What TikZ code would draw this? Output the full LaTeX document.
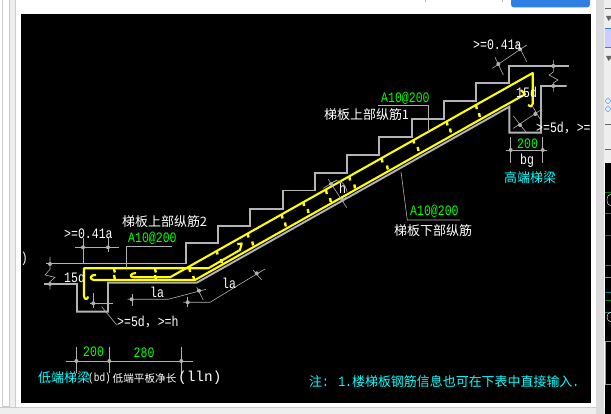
\documentclass[tikz,border=0pt]{standalone}
\usepackage{fontspec}
\setmainfont[FakeStretch=.8]{Liberation Mono}
\newfontfamily\widefont{Liberation Mono}
\newfontfamily\cnfont[Scale=.9]{Noto Sans CJK SC}
\definecolor{concrete}{HTML}{B4B4B4}
\definecolor{dimline}{HTML}{B0B0B0}
\definecolor{rebarcol}{HTML}{FFFF00}
\definecolor{labgreen}{HTML}{00FF00}
\definecolor{labcyan}{HTML}{00FFFF}
\definecolor{panelgray}{HTML}{EEEEEE}
\definecolor{edgegray}{HTML}{CCCCCC}
\definecolor{buttonblue}{HTML}{2F80E2}
\tikzset{
	concreteline/.style={draw=concrete, line width=1.9pt},
	rebar/.style={draw=rebarcol, line width=2.1pt, line join=round},
	rebartick/.style={draw=rebarcol, line width=2.4pt},
	dimthin/.style={draw=dimline, line width=.6pt},
	dimdot/.style={fill=dimline},
	lab/.style={inner sep=0pt, anchor=west, text=white, font=\fontsize{14.4}{15}\selectfont},
	labg/.style={lab, text=labgreen},
	labc/.style={lab, text=labcyan},
}
\begin{document}
\begin{tikzpicture}[x=1pt, y=-1pt]
	\useasboundingbox (0,0) rectangle (611,414);
	% window around the drawing
	\fill [white] (0,0) rectangle (611,414);
	\fill [panelgray] (9,0) rectangle (16,414);
	\draw [edgegray] (2.5,0) -- (2.5,406) -- (9,406);
	\draw [edgegray] (9,0) -- (9,408);
	\draw [edgegray] (15.5,0) -- (15.5,408);
	\fill [panelgray] (0,408) rectangle (611,414);
	\draw [edgegray] (0,407) -- (596,407);
	\fill [edgegray!70] (596,0) rectangle (604,414);
	\fill [panelgray] (604,0) rectangle (611,163);
	\fill [black] (605,163) rectangle (611,414);
	\fill [black!60] (606,16) -- (611,16) -- (611,18) -- (608.5,21) -- cycle;
	\fill [blue!20!white] (605,28) rectangle (611,48);
	\draw [buttonblue] (605,28.5) -- (611,28.5);
	\draw [buttonblue] (605,47.5) -- (611,47.5);
	\fill [black!60] (606,56) -- (611,56) -- (611,58) -- (608.5,61) -- cycle;
	\draw [buttonblue] (608,101) circle (2.5);
	\draw [buttonblue] (608,109) circle (2.5);
	\draw [black!60] (605,8) -- (611,8);
	\draw [black!60] (605,124) -- (611,124);
	\draw [black!60] (605,149) -- (611,149);
	\foreach \y/\c in {192/green!50!black, 213/magenta, 235/green!50!black, 265/magenta, 277/brown, 292/teal, 300/green!50!black, 312/teal} {
		\draw [\c] (605,\y) -- (611,\y);
	}
	\draw [white] (611,206) arc (90:270:4 and 6);
	\draw [white] (611,322) arc (90:270:4 and 5);
	\draw [black!40] (605,341) -- (611,341);
	\draw [black!40] (605,341) -- (605,384) -- (611,384);
	\fill [rounded corners=3pt, buttonblue] (511,-6) rectangle (590,7.5);
	\draw [dimline] (425,0) -- (425,2);
	\draw [dimline] (502,0) -- (502,2);
	\fill [black] (21,14) rectangle (591,403);

	% stair outline
	\draw [concreteline] (46,263.5) -- (186,263.5) -- (186,243) -- (218,243) -- (218,226) -- (250,226) -- (250,209) -- (283,209) -- (283,190.5) -- (315,190.5) -- (315,172.7) -- (347,172.7) -- (347,155) -- (379.3,155) -- (379.3,136.7) -- (412,136.7) -- (412,119) -- (444,119) -- (444,101) -- (476,101) -- (476,83) -- (509.3,83) -- (509.3,66) -- (568.7,66);
	\draw [concreteline] (44,284) -- (77,284) -- (77,311.7) -- (108,311.7) -- (108,282.7) -- (196.7,282.7) -- (509.3,106.7) -- (509.3,132.7) -- (541,132.7) -- (541,86) -- (566.7,86);

	% bars
	\draw [rebar] (88,296.5) .. controls (88,300) and (84,300) .. (84,296) -- (84,268.3) -- (208.3,268.3) -- (240,250) -- (241.7,243.5) -- (237.3,244);
	\draw [rebar] (96,275) .. controls (90,274) and (89,280) .. (94,280) -- (195,280) -- (525,94.3) -- (521,90);
	\draw [rebar] (136,273) .. controls (130,273) and (129,277.3) .. (134,277.3) -- (170,277.3) -- (532.7,73) -- (532.7,104) -- (531,106.5) -- (528,105);
	\foreach \x/\y in {114/268.5, 114/275, 155/268.5, 155/275, 189.3/268, 193.3/276, 216.7/250.5, 221/259, 247.7/233.5, 252.3/241.5, 281.7/214.5, 285/222.5, 303.3/202, 307.7/209, 326/190, 330/198, 349.3/176.5, 354.3/184.5, 381.7/158.5, 387/165.5, 413.3/139.5, 417.7/147, 446.7/121.5, 450/128.5, 476/105, 479/113} {
		\draw [rebartick] (\x,\y) -- ++(.8,4);
	}

	% dimensions at the low end
	\draw [dimthin] (75,247.3) -- (119,247.3);
	\draw [dimthin] (83,238) -- (83,263);
	\draw [dimthin] (108,238) -- (108,252);
	\draw [dimthin] (126.3,268) -- (126.3,246.3) -- (171.7,246.3);
	\draw [dimthin] (50,257) -- (50,269.3) -- (45,275) -- (55,277.3) -- (50,281.7) -- (50,289.3);
	\draw [dimthin] (93.3,293) -- (93.3,308);
	\draw [dimthin] (90,303.3) -- (113,303.3);
	\draw [dimthin] (101.7,306.7) -- (116.7,325);
	\draw [dimthin] (127.7,299.3) -- (168.3,299.3) -- (206,289.3);
	\draw [dimthin] (132,294) -- (132,306);
	\draw [dimthin] (196.7,287.3) -- (203.3,300);
	\draw [dimthin] (183.3,302.3) -- (210,302.3) -- (265,269);
	\draw [dimthin] (187.7,296.7) -- (187.7,307.3);
	\draw [dimthin] (253,270) -- (261.7,280);
	\draw [dimthin] (66,361) -- (192.7,361);
	\foreach \x in {76.3, 109.3, 181.3} {
		\draw [dimthin] (\x,346.7) -- (\x,373);
	}

	% dimensions along the flight and at the high end
	\draw [dimthin] (328.3,179.3) -- (346.7,207.7);
	\draw [dimthin] (323.3,188.3) -- (336.7,180);
	\draw [dimthin] (336.7,204) -- (346.7,196.7);
	\draw [dimthin] (331,184) .. controls (338,176) and (346,184) .. (347,192);
	\draw [dimthin] (401,171.7) -- (407.3,220) -- (460,220);
	\draw [dimthin] (378.3,105.3) -- (428.3,105.3) -- (428.3,131.7);
	\draw [dimthin] (492.3,68.3) -- (526.7,45);
	\draw [dimthin] (495,57.3) -- (503.3,75);
	\draw [dimthin] (516.7,41.7) -- (526.7,61.7);
	\draw [dimthin] (553.3,60) -- (553.3,72) -- (549,75) -- (558,80) -- (553.3,83) -- (553.3,91.7);
	\draw [dimthin] (513.3,128.3) -- (540.7,110);
	\draw [dimthin] (513.3,116) -- (526.7,133);
	\draw [dimthin] (531.7,105) -- (541.7,121.7);
	\draw [dimthin] (510.7,136.7) -- (510.7,163);
	\draw [dimthin] (542.7,136.7) -- (542.7,163);
	\draw [dimthin] (506,150) -- (547,150);

	\foreach \x/\y in {83/247.3, 108/247.3, 50/264, 50/284, 93.3/303.3, 131.7/299.3, 199/290.7, 187.7/302.3, 256.7/273.3, 76.3/361, 109.3/361, 181.3/361, 331/184, 342.3/200, 498.3/64, 520/49.3, 553.3/66, 553.3/86, 520/125, 535.3/114, 510.7/150, 542.7/150} {
		\fill [dimdot] (\x,\y) circle (2);
	}

	% labels
	\begin{scope}
		\clip (21,14) rectangle (591,403);
		\node [lab, anchor=east] (cuttext) at (28,259) {t)};
		\node [lab] (highanchor) at (536,127.7) {>=5d{\cnfont ，}>=h};
	\end{scope}
	\node [lab] (lowtopbar) at (122,222) {\cnfont 梯板上部纵筋2};
	\node [labg] (lowtopspec) at (128,238.5) {A10@200};
	\node [lab] (lowlap) at (64,234) {>=0.41a};
	\node [lab] (lowhook) at (64,277) {15d};
	\node [lab] (lowanchor) at (117,322) {>=5d{\cnfont ，}>=h};
	\node [lab] (lowla) at (150,292) {la};
	\node [lab] (slopela) at (222,283) {la};
	\node [labg] (lowwidth) at (83,352) {200};
	\node [labg] (lowlen) at (133.5,352.5) {280};
	\node [labc] (lowbeam) at (38,378) {\cnfont 低端梯梁};
	\node [lab, font=\fontsize{11.8}{15}\selectfont] (lowbd) at (88,378) {(bd)};
	\node [lab, font=\fontsize{11.8}{15}\selectfont] (lowflat) at (112.5,378) {\cnfont 低端平板净长};
	\node [lab, font=\fontsize{14.4}{15}\selectfont\widefont] (lowlln) at (178,378) {(lln)};
	\node [lab] (thick) at (339,188) {h};
	\node [labg] (topspec) at (381,98.5) {A10@200};
	\node [lab] (topbar) at (324,114.7) {\cnfont 梯板上部纵筋1};
	\node [labg] (botspec) at (410,211.5) {A10@200};
	\node [lab] (botbar) at (394,231) {\cnfont 梯板下部纵筋};
	\node [lab] (highlap) at (473,45) {>=0.41a};
	\node [lab] (highhook) at (516,92) {15d};
	\node [labg] (highwidth) at (517,144) {200};
	\node [lab] (highbg) at (520,161) {bg};
	\node [labc] (highbeam) at (504,178) {\cnfont 高端梯梁};
	\node [labc] (note) at (309,381.7) {{\cnfont 注}: 1.{\cnfont 楼梯板钢筋信息也可在下表中直接输入}.};
\end{tikzpicture}
\end{document}
